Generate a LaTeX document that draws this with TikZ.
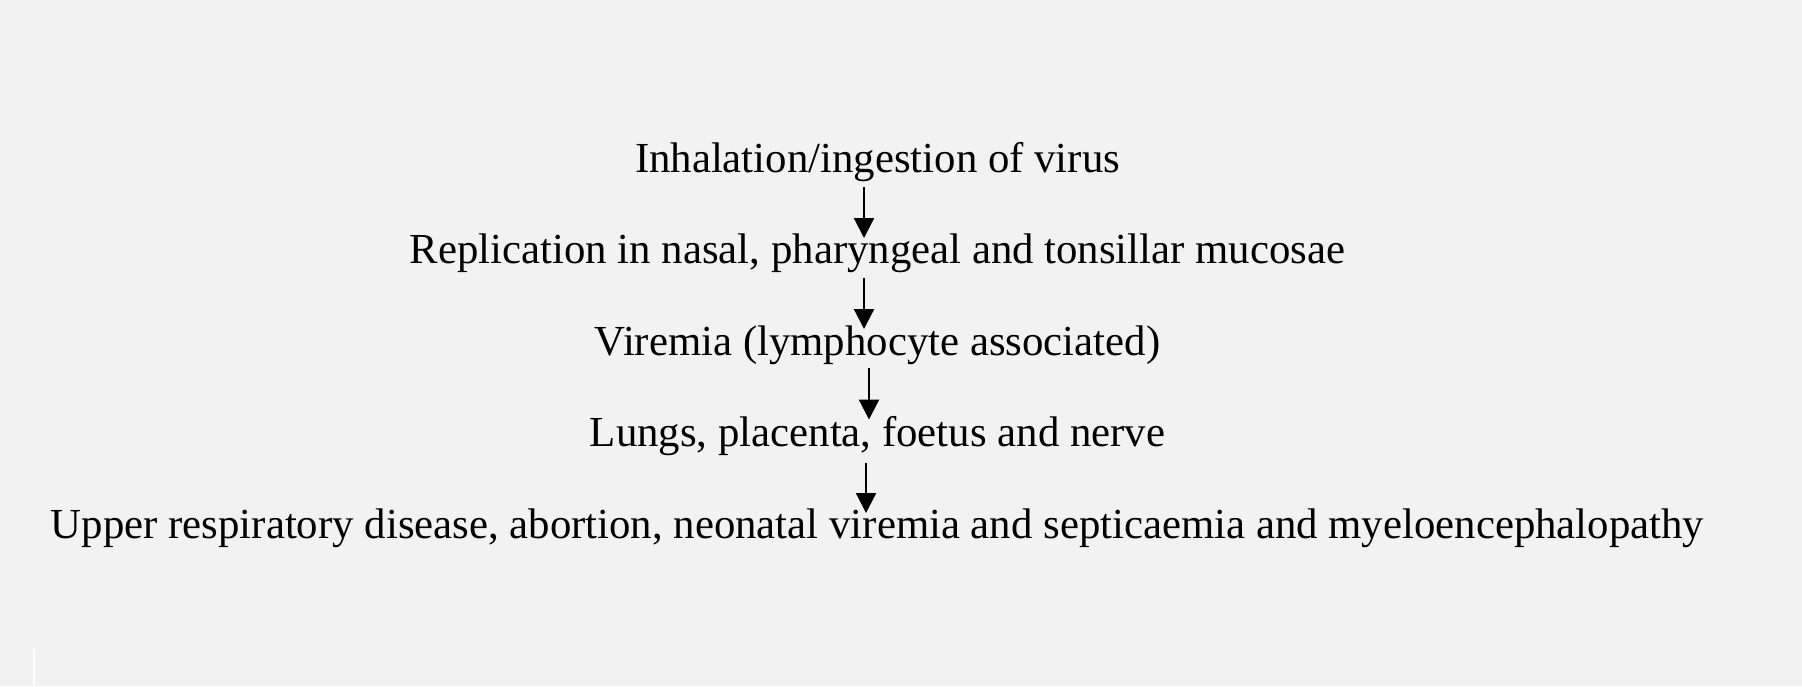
\documentclass[tikz,border=0pt]{standalone}
\usepackage{fontspec}
\setmainfont{Liberation Serif}
\usetikzlibrary{arrows.meta}
\definecolor{bg}{HTML}{F2F2F2}
\begin{document}
\begin{tikzpicture}[x=0.5pt,y=-0.5pt,
  lbl/.style={anchor=base,inner sep=0pt,font=\fontsize{21.4pt}{25pt}\selectfont},
  arr/.style={line width=1.1pt,-{Triangle[width=10pt,length=10pt]}}]
\fill[bg] (0,0) rectangle (1802,686);
\useasboundingbox (0,0) rectangle (1802,686);
\draw[white,line width=0.6pt] (34,649) -- (34,686);
\node[lbl] (l1) at (877.5,172) {Inhalation/ingestion of virus};
\node[lbl] (l2) at (877.5,263.5) {Replication in nasal, pharyngeal and tonsillar mucosae};
\node[lbl] (l3) at (877.5,355) {Viremia (lymphocyte associated)};
\node[lbl] (l4) at (877.5,446.5) {Lungs, placenta, foetus and nerve};
\node[lbl] (l5) at (877.5,538) {Upper respiratory disease, abortion, neonatal viremia and septicaemia and myeloencephalopathy};
\draw[arr] ([xshift=-6.75pt,yshift=-7.5pt]l1.base) -- ([xshift=-6.75pt,yshift=12.75pt]l2.base);
\draw[arr] ([xshift=-6.75pt,yshift=-7pt]l2.base) -- ([xshift=-6.75pt,yshift=13pt]l3.base);
\draw[arr] ([xshift=-4.25pt,yshift=-6.5pt]l3.base) -- ([xshift=-4.25pt,yshift=13.5pt]l4.base);
\draw[arr] ([xshift=-5.75pt,yshift=-8pt]l4.base) -- ([xshift=-5.75pt,yshift=12.5pt]l5.base);
\end{tikzpicture}
\end{document}
